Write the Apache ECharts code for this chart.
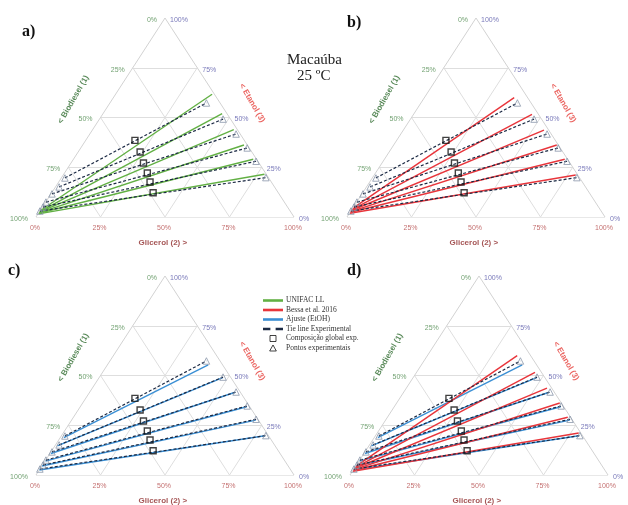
<!DOCTYPE html>
<html><head><meta charset="utf-8">
<script src="https://cdn.jsdelivr.net/npm/echarts@6/dist/echarts.min.js"></script>
<style>html,body{margin:0;padding:0;background:#fff}#c{width:628px;height:505px}</style>
</head><body><div id="c"></div><script>
// ---- DATA: compositions [Biodiesel (1), Glicerol (2), Etanol (3)] (mass fraction) ----
const tickValues = [0, 0.25, 0.5, 0.75, 1];
const tickLabels = ['0%', '25%', '50%', '75%', '100%'];
const panelLabels = ['a)', 'b)', 'c)', 'd)'];
const axisTitles = ['< Biodiesel (1)', 'Glicerol (2) >', '< Etanol (3)'];
const legendNames = ['UNIFAC LL', 'Bessa et al. 2016', 'Ajuste (EtOH)', 'Tie line Experimental', 'Composição global exp.', 'Pontos experimentais'];

// experimental tie lines
const expBiodieselPhase = [[0.790,0.014,0.196],[0.835,0.014,0.151],[0.880,0.004,0.116],[0.924,0.001,0.075],[0.948,0.002,0.050],[0.970,0.000,0.030]];
const expGlycerolPhase  = [[0.053,0.374,0.573],[0.029,0.479,0.492],[0.016,0.567,0.417],[0.008,0.645,0.347],[0.007,0.713,0.280],[0.010,0.792,0.198]];
const globalComposition = [[0.424,0.191,0.385],[0.433,0.240,0.327],[0.448,0.281,0.271],[0.458,0.321,0.221],[0.470,0.354,0.176],[0.485,0.393,0.122]];
// UNIFAC LL
const unifacBiodieselPhase = [[0.962,0.003,0.035],[0.967,0.003,0.030],[0.972,0.002,0.026],[0.976,0.002,0.022],[0.979,0.002,0.019],[0.982,0.002,0.016]];
const unifacGlycerolPhase  = [[0.009,0.374,0.617],[0.019,0.462,0.519],[0.014,0.547,0.439],[0.013,0.625,0.362],[0.013,0.697,0.290],[0.007,0.778,0.215]];
// Bessa et al. 2016
const bessaBiodieselPhase = [[0.950,0.003,0.047],[0.957,0.003,0.040],[0.963,0.003,0.034],[0.969,0.003,0.028],[0.974,0.002,0.024],[0.979,0.002,0.019]];
const bessaGlycerolPhase  = [[0.052,0.348,0.600],[0.025,0.459,0.516],[0.018,0.545,0.437],[0.006,0.632,0.362],[0.011,0.699,0.290],[0.008,0.781,0.211]];
// Ajuste (EtOH)
const ajusteBiodieselPhase = [[0.798,0.014,0.188],[0.844,0.010,0.146],[0.888,0.004,0.108],[0.928,0.002,0.070],[0.954,0.001,0.045],[0.974,0.001,0.025]];
const ajusteGlycerolPhase  = [[0.056,0.391,0.553],[0.032,0.479,0.489],[0.020,0.564,0.416],[0.012,0.645,0.343],[0.010,0.714,0.276],[0.014,0.789,0.197]];

// ---- ternary -> cartesian data units (triangle (0,0),(1,0),(0.5,1)) ----
function tern(p){ const s = p[0]+p[1]+p[2]; const g = p[1]/s, e = p[2]/s; return [g + e/2, e]; }

const models = {
  unifac: {name: legendNames[0], color: '#62b044', L: unifacBiodieselPhase, R: unifacGlycerolPhase},
  bessa:  {name: legendNames[1], color: '#e8353b', L: bessaBiodieselPhase, R: bessaGlycerolPhase},
  ajuste: {name: legendNames[2], color: '#3a8fd4', L: ajusteBiodieselPhase, R: ajusteGlycerolPhase}
};
const W = 258, H = 199;
const panels = [
  {left: 36,  top: 18,  models: ['unifac'],          lab: {x: 22, y: 24}},
  {left: 347, top: 18,  models: ['bessa'],           lab: {x: 347, y: 15}},
  {left: 36,  top: 276, models: ['ajuste'],          lab: {x: 8, y: 263}},
  {left: 350, top: 276, models: ['ajuste', 'bessa'], lab: {x: 347, y: 263}}
];

const gridSegs = [];
[0.25, 0.5, 0.75].forEach(p => {
  gridSegs.push([[1-p,0,p],[0,1-p,p]]);
  gridSegs.push([[1-p,p,0],[0,p,1-p]]);
  gridSegs.push([[p,1-p,0],[p,0,1-p]]);
});
const edgeSegs = [[[1,0,0],[0,1,0]], [[0,1,0],[0,0,1]], [[0,0,1],[1,0,0]]];

const grids = [], xAxes = [], yAxes = [], series = [], graphics = [];
const tickFont = {fontFamily: 'Liberation Sans', fontSize: 7};

panels.forEach((pn, i) => {
  grids.push({left: pn.left, top: pn.top, width: W, height: H});
  xAxes.push({type: 'value', gridIndex: i, min: 0, max: 1, show: false});
  yAxes.push({type: 'value', gridIndex: i, min: 0, max: 1, show: false});
  const ax = {xAxisIndex: i, yAxisIndex: i};

  series.push(Object.assign({type: 'lines', coordinateSystem: 'cartesian2d', silent: true, z: 1,
    lineStyle: {color: '#dedede', width: 1, opacity: 1},
    data: gridSegs.map(s => ({coords: [tern(s[0]), tern(s[1])]}))}, ax));
  series.push(Object.assign({type: 'lines', coordinateSystem: 'cartesian2d', silent: true, z: 1,
    lineStyle: {color: '#d2d2d2', width: 1, opacity: 1},
    data: edgeSegs.map(s => ({coords: [tern(s[0]), tern(s[1])]}))}, ax));

  // model tie lines
  pn.models.forEach(k => {
    const m = models[k];
    m.L.forEach((lp, j) => {
      series.push(Object.assign({type: 'line', name: m.name, symbol: 'none', showSymbol: false, z: 3,
        lineStyle: {color: m.color, width: 1.4}, itemStyle: {color: m.color},
        data: [tern(lp), tern(m.R[j])]}, ax));
    });
  });
  // experimental tie lines
  expBiodieselPhase.forEach((lp, j) => {
    series.push(Object.assign({type: 'line', name: legendNames[3], symbol: 'none', showSymbol: false, z: 4,
      lineStyle: {color: '#1c2a44', width: 1.2, type: [3, 2]}, itemStyle: {color: '#1c2a44'},
      data: [tern(lp), tern(expGlycerolPhase[j])]}, ax));
  });
  series.push(Object.assign({type: 'scatter', name: legendNames[5], symbol: 'triangle', symbolSize: 6.5, z: 5, clip: false,
    itemStyle: {color: 'rgba(255,255,255,0)', borderColor: '#8a96aa', borderWidth: 1},
    data: expBiodieselPhase.concat(expGlycerolPhase).map(tern)}, ax));
  series.push(Object.assign({type: 'scatter', name: legendNames[4], symbol: 'rect', symbolSize: 6, z: 6, clip: false,
    itemStyle: {color: 'rgba(255,255,255,0)', borderColor: '#111', borderWidth: 1.4},
    data: globalComposition.map(tern)}, ax));

  // tick labels
  const lblSeries = (pts, color, pos, dist, off) => Object.assign({type: 'scatter', symbolSize: 0, silent: true, clip: false, z: 2,
    label: {show: true, formatter: '{b}', position: pos, distance: dist, offset: off, color: color, fontFamily: tickFont.fontFamily, fontSize: tickFont.fontSize},
    data: pts}, ax);
  series.push(lblSeries(tickValues.map((v, k) => ({name: tickLabels[k], value: tern([v, 0, 1-v])})), '#4e8a4e', 'left', 8, [0, 2]));
  series.push(lblSeries(tickValues.map((v, k) => ({name: tickLabels[k], value: tern([0, 1-v, v])})), '#5656a8', 'right', 5, [0, 2]));
  series.push(lblSeries(tickValues.map((v, k) => ({name: tickLabels[k], value: tern([1-v, v, 0])})), '#b44a4a', 'bottom', 8, [-1, 0]));

  // axis titles
  const title = (txt, pt, color, rot) => Object.assign({type: 'scatter', symbolSize: 0, silent: true, clip: false, z: 2,
    label: {show: true, formatter: txt, position: 'inside', rotate: rot, color: color, fontFamily: 'Liberation Sans', fontWeight: 'bold', fontSize: 8},
    data: [tern(pt)]}, ax);
  series.push(title(axisTitles[0], [0.56, -0.15, 0.59], '#2d6a2d', 60));
  series.push(title(axisTitles[1], [0.574, 0.557, -0.131], '#8e2a2a', 0));
  series.push(title(axisTitles[2], [-0.124, 0.551, 0.573], '#e53935', -60));

  graphics.push({type: 'text', left: pn.lab.x, top: pn.lab.y,
    style: {text: panelLabels[i], font: 'bold 16px "Liberation Serif"', fill: '#111'}});
});

graphics.push({type: 'text', left: 287, top: 53, style: {text: 'Macaúba', font: '15px "Liberation Serif"', fill: '#222'}});
graphics.push({type: 'text', left: 297, top: 69, style: {text: '25 ºC', font: '15px "Liberation Serif"', fill: '#222'}});

const barIcon = 'path://M0,0H20V2.6H0Z';
const dashIcon = 'path://M0,0H7V2.4H0Z M12,0H19V2.4H12Z';
const chart = echarts.init(document.getElementById('c'));
chart.setOption({
  animation: false,
  grid: grids, xAxis: xAxes, yAxis: yAxes,
  legend: {
    orient: 'vertical', left: 263, top: 296, itemWidth: 20, itemHeight: 6, itemGap: 0.5, padding: 0,
    selectedMode: false, symbolKeepAspect: true,
    textStyle: {fontFamily: 'Liberation Serif', fontSize: 7.5, lineHeight: 9, color: '#333', padding: [0, 0, 0, -2]},
    data: [
      {name: legendNames[0], icon: barIcon},
      {name: legendNames[1], icon: barIcon},
      {name: legendNames[2], icon: barIcon},
      {name: legendNames[3], icon: dashIcon},
      {name: legendNames[4], icon: 'path://M0,0L10,0L10,10L0,10Z', itemStyle: {color: 'rgba(255,255,255,0)', borderColor: '#111', borderWidth: 1}},
      {name: legendNames[5], icon: 'path://M5,0L10,9L0,9Z', itemStyle: {color: 'rgba(255,255,255,0)', borderColor: '#111', borderWidth: 1}}
    ]
  },
  graphic: graphics,
  series: series
});
</script></body></html>
